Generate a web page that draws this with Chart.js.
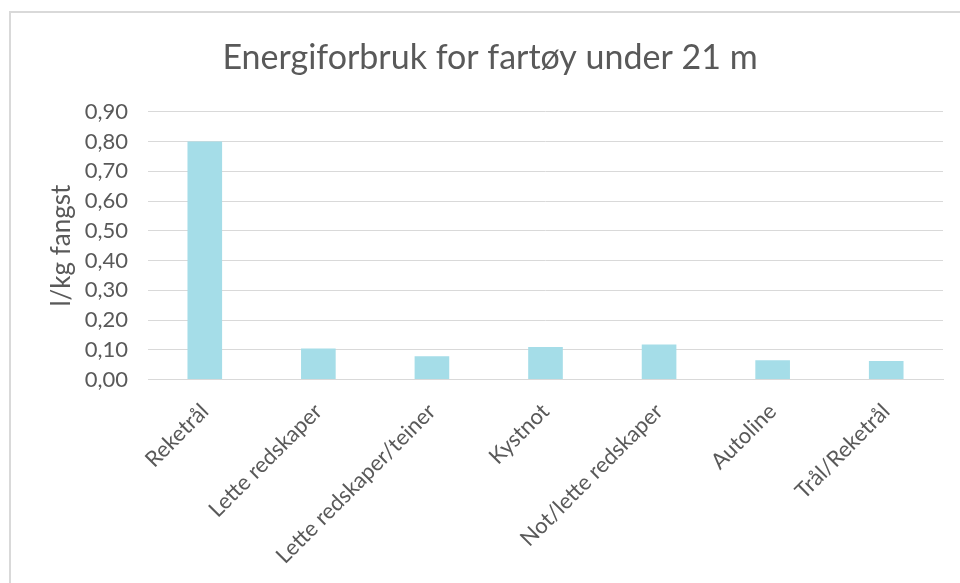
<!DOCTYPE html>
<html>
<head>
<meta charset="utf-8">
<script src="https://cdn.jsdelivr.net/npm/chart.js@4/dist/chart.umd.min.js"></script>
<style>
  html, body { margin: 0; padding: 0; background: #ffffff; }
  #wrap { position: relative; width: 960px; height: 583px; overflow: hidden; }
  #frame { position: absolute; left: 9px; top: 11px; width: 960px; height: 600px;
           border-left: 2px solid #d9d9d9; border-top: 2px solid #d9d9d9; box-sizing: border-box; }
  canvas { position: absolute; left: 0; top: 0; }
</style>
</head>
<body>
<div id="wrap">
  <div id="frame"></div>
  <canvas id="c" width="960" height="583"></canvas>
</div>
<script>
const categories = ["Reketrål", "Lette redskaper", "Lette redskaper/teiner", "Kystnot", "Not/lette redskaper", "Autoline", "Trål/Reketrål"];
const values = [0.80, 0.104, 0.078, 0.109, 0.118, 0.065, 0.062];
const titleText = "Energiforbruk for fartøy under 21 m";
const yAxisTitle = "l/kg fangst";
const yMin = 0, yMax = 0.9, yStep = 0.1;

const textColor = "#595959";
const fontFamily = "Lato, 'Open Sans', sans-serif";

new Chart(document.getElementById("c"), {
  type: "bar",
  data: {
    labels: categories,
    datasets: [{
      data: values,
      backgroundColor: "#a5dde8",
      borderWidth: 0,
      barPercentage: 0.305,
      categoryPercentage: 1.0
    }]
  },
  options: {
    responsive: false,
    animation: false,
    devicePixelRatio: 1,
    layout: { padding: { top: 0, left: 37, right: 17, bottom: 0 } },
    plugins: {
      legend: { display: false },
      tooltip: { enabled: false },
      title: {
        display: true,
        text: titleText,
        color: textColor,
        font: { family: fontFamily, size: 34, weight: "normal", lineHeight: 1.2 },
        padding: { top: 38, bottom: 33 }
      }
    },
    scales: {
      x: {
        grid: { display: false, drawTicks: false },
        border: { display: true, color: "#d9d9d9", width: 1 },
        ticks: {
          color: textColor,
          font: { family: fontFamily, size: 22 },
          minRotation: 45,
          maxRotation: 45,
          autoSkip: false,
          padding: 19
        },
        afterFit: function(scale) { scale.height = 583 - 379.5; }
      },
      y: {
        min: yMin,
        max: yMax,
        grid: { color: "#d9d9d9", lineWidth: 1, drawTicks: false },
        border: { display: false },
        ticks: {
          stepSize: yStep,
          color: textColor,
          font: { family: fontFamily, size: 22 },
          padding: 20,
          callback: function(v) { return v.toFixed(2).replace(".", ","); }
        },
        title: {
          display: true,
          text: yAxisTitle,
          color: textColor,
          font: { family: fontFamily, size: 26 },
          padding: { top: 9, bottom: 0 }
        },
        afterFit: function(scale) { scale.width = 148 - 37; }
      }
    }
  }
});
</script>
</body>
</html>
